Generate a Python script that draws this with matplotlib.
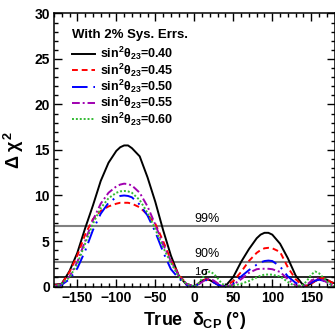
import numpy as np
import matplotlib
matplotlib.use("Agg")
import matplotlib.pyplot as plt
from matplotlib.ticker import MultipleLocator

plt.rcParams['font.family'] = ['Liberation Sans', 'DejaVu Sans']
plt.rcParams['mathtext.fontset'] = 'custom'
plt.rcParams['mathtext.rm'] = 'Liberation Sans:bold'
plt.rcParams['mathtext.it'] = 'Liberation Sans:bold'
plt.rcParams['mathtext.bf'] = 'Liberation Sans:bold'

# True delta_CP grid (degrees)
dcp = [-180, -170, -160, -150, -140, -130, -120, -110, -100, -95, -90, -85, -80, -70, -60, -50, -40, -30, -20, -10,
       0, 5, 10, 15, 20, 25, 30, 35, 40,
       50, 60, 70, 80, 85, 90, 95, 100, 110, 120, 130,
       140, 145, 150, 155, 160, 165, 170, 175, 180]

# Delta chi^2 for each sin^2(theta23)
chi_040 = [0.2, 0.3, 1.7, 3.7, 6.4, 8.9, 11.6, 13.6, 14.9, 15.3, 15.5, 15.5, 15.2, 14.3, 12.0, 9.3, 6.2, 3.4, 1.2, 0.2,
           0.0, 0.3, 0.65, 0.8, 0.7, 0.45, 0.2, 0.05, 0.05,
           1.05, 2.7, 4.1, 5.3, 5.7, 5.9, 5.9, 5.7, 4.7, 3.1, 1.2,
           0.1, 0.1, 0.35, 0.6, 0.8, 0.85, 0.75, 0.5, 0.35]
chi_045 = [0.1, 0.3, 1.6, 3.4, 5.7, 7.4, 8.3, 8.8, 9.1, 9.2, 9.2, 9.2, 9.1, 8.7, 7.9, 6.9, 5.0, 2.9, 1.3, 0.3,
           0.0, 0.3, 0.6, 0.8, 0.7, 0.5, 0.25, 0.05, 0.0,
           0.6, 1.6, 2.8, 3.7, 4.0, 4.2, 4.25, 4.2, 3.8, 2.1, 0.8,
           0.0, 0.1, 0.3, 0.6, 0.85, 0.95, 0.8, 0.5, 0.3]
chi_050 = [0.0, 0.2, 0.8, 2.0, 3.9, 6.2, 8.0, 9.2, 9.8, 9.95, 10.0, 9.95, 9.8, 9.0, 7.8, 6.0, 3.8, 1.9, 0.9, 0.2,
           0.0, 0.25, 0.55, 0.7, 0.65, 0.45, 0.2, 0.05, 0.0,
           0.3, 1.1, 1.8, 2.4, 2.65, 2.8, 2.85, 2.8, 2.2, 1.1, 0.4,
           0.05, 0.15, 0.4, 0.65, 0.75, 0.65, 0.45, 0.25, 0.1]
chi_055 = [0.0, 0.3, 1.1, 2.7, 5.0, 7.3, 9.1, 10.3, 11.0, 11.2, 11.3, 11.25, 11.1, 10.3, 8.8, 6.8, 4.6, 2.8, 1.2, 0.3,
           0.0, 0.2, 0.5, 0.75, 0.85, 0.65, 0.35, 0.1, 0.0,
           0.2, 0.8, 1.5, 1.9, 1.95, 1.95, 1.95, 1.9, 1.6, 0.8, 0.1,
           0.05, 0.25, 0.6, 0.9, 0.9, 0.7, 0.45, 0.2, 0.05]
chi_060 = [0.0, 0.3, 1.0, 2.5, 4.7, 6.9, 8.6, 9.7, 10.3, 10.45, 10.5, 10.45, 10.3, 9.5, 8.1, 6.3, 4.3, 2.6, 1.1, 0.3,
           0.0, 0.3, 0.9, 1.4, 1.65, 1.4, 0.9, 0.35, 0.05,
           0.1, 0.3, 0.6, 1.0, 1.2, 1.3, 1.32, 1.3, 1.1, 0.5, 0.0,
           0.2, 0.7, 1.3, 1.65, 1.45, 1.0, 0.55, 0.2, 0.0]

labels = [r'sin$^{2}\theta_{23}$=0.40', r'sin$^{2}\theta_{23}$=0.45', r'sin$^{2}\theta_{23}$=0.50',
          r'sin$^{2}\theta_{23}$=0.55', r'sin$^{2}\theta_{23}$=0.60']
legend_title = 'With 2% Sys. Errs.'

# confidence levels
cl_vals = [6.63, 2.71, 1.0]
cl_names = ['99%', '90%', r'1$\sigma$']

fig = plt.figure(figsize=(3.35, 3.33), dpi=100)
ax = fig.add_axes([0.161, 0.1396, 0.838, 0.82])

ax.axhline(cl_vals[0], color='#808080', lw=1.5, zorder=1)
ax.axhline(cl_vals[1], color='#808080', lw=1.5, zorder=1)
ax.axhline(cl_vals[2], color='black', lw=1.2, zorder=1)

ax.plot(dcp, chi_040, color='black', lw=1.4, label=labels[0])
ax.plot(dcp, chi_045, color='red', lw=1.4, dashes=(3, 2), label=labels[1])
ax.plot(dcp, chi_050, color='blue', lw=1.4, dashes=(8, 3, 1, 3), label=labels[2])
ax.plot(dcp, chi_055, color='#a000b0', lw=1.4, dashes=(4, 1.5, 1, 1.5), label=labels[3])
ax.plot(dcp, chi_060, color='#33bb33', lw=1.4, dashes=(1, 1), label=labels[4])

ax.text(0, cl_vals[0] + 0.15, cl_names[0], fontsize=9, va='bottom', ha='left')
ax.text(0, cl_vals[1] + 0.15, cl_names[1], fontsize=9, va='bottom', ha='left')
ax.text(0, cl_vals[2] + 0.1, cl_names[2], fontsize=8, va='bottom', ha='left')

ax.set_xlim(-180, 180)
ax.set_ylim(0, 30)
ax.xaxis.set_major_locator(MultipleLocator(50))
ax.xaxis.set_minor_locator(MultipleLocator(10))
ax.yaxis.set_major_locator(MultipleLocator(5))
ax.yaxis.set_minor_locator(MultipleLocator(1))
ax.tick_params(which='both', direction='in', top=True, right=True, width=1)
ax.tick_params(which='major', length=6, labelsize=10, pad=3)
ax.tick_params(which='minor', length=3)
for lab in ax.get_xticklabels() + ax.get_yticklabels():
    lab.set_fontweight('bold')
for sp in ax.spines.values():
    sp.set_linewidth(1.1)

ax.set_xlabel(r'True  $\delta_{CP}$ (°)', fontsize=13, fontweight='bold', labelpad=4)
ax.set_ylabel(r'$\Delta$ $\chi^{2}$', fontsize=13, fontweight='bold', labelpad=6)

# legend title as separate text, entries below
ax.text(0.064, 0.921, legend_title, transform=ax.transAxes, fontsize=9.5,
        fontweight='bold', va='center', ha='left')
leg = ax.legend(loc='upper left', bbox_to_anchor=(0.066, 0.885), frameon=False,
                prop={'size': 9, 'weight': 'bold'}, handlelength=1.8, handletextpad=0.4,
                labelspacing=-0.07, borderaxespad=0, borderpad=0)

fig.savefig('out.png', dpi=100)
